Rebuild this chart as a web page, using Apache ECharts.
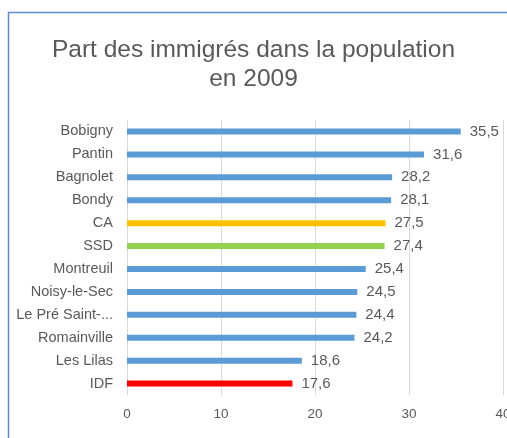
<!DOCTYPE html>
<html>
<head>
<meta charset="utf-8">
<script src="https://cdn.jsdelivr.net/npm/echarts@6/dist/echarts.min.js"></script>
<style>
html,body{margin:0;padding:0;background:#fff;}
#c{width:507px;height:438px;}
</style>
</head>
<body>
<div id="c"></div>
<script>
const categories = ["Bobigny","Pantin","Bagnolet","Bondy","CA","SSD","Montreuil","Noisy-le-Sec","Le Pré Saint-Gervais","Romainville","Les Lilas","IDF"];
const values = [35.5,31.6,28.2,28.1,27.5,27.4,25.4,24.5,24.4,24.2,18.6,17.6];
const barColors = ["#5B9BD5","#5B9BD5","#5B9BD5","#5B9BD5","#FFC000","#92D050","#5B9BD5","#5B9BD5","#5B9BD5","#5B9BD5","#5B9BD5","#FF0000"];
const xTicks = [0,10,20,30,40];

const chart = echarts.init(document.getElementById('c'));
chart.setOption({
  animation:false,
  backgroundColor:'#fff',
  graphic:[{type:'rect',shape:{x:8.5,y:12.5,width:700,height:600},style:{fill:'none',stroke:'#5B8BD0',lineWidth:1.5},silent:true}],
  title:{
    text:'Part des immigrés dans la population\nen 2009',
    left:'center', top:31,
    textStyle:{fontFamily:'Liberation Sans, Arial',fontSize:24.5,fontWeight:'normal',color:'#595959',lineHeight:29}
  },
  grid:{left:127,right:4,top:120,bottom:43,containLabel:false,outerBoundsMode:'none'},
  xAxis:{
    type:'value',min:xTicks[0],max:xTicks[xTicks.length-1],interval:10,
    axisLine:{show:false},axisTick:{show:false},
    splitLine:{lineStyle:{color:'#D9D9D9'}},
    axisLabel:{color:'#595959',fontSize:13.5,fontFamily:'Liberation Sans, Arial',margin:12,hideOverlap:false}
  },
  yAxis:{
    type:'category',data:categories,inverse:true,
    axisLine:{show:false},axisTick:{show:false},
    axisLabel:{color:'#595959',fontSize:14.5,fontFamily:'Liberation Sans, Arial',margin:14,width:106,overflow:'truncate',ellipsis:'...'}
  },
  series:[{
    type:'bar',
    data:values.map((v,i)=>({value:v,itemStyle:{color:barColors[i]}})),
    barWidth:6,
    label:{show:true,position:'right',distance:9,color:'#595959',fontSize:15,fontFamily:'Liberation Sans, Arial',
      formatter:p=>p.value.toFixed(1).replace('.',',')}
  }]
});
</script>
</body>
</html>
